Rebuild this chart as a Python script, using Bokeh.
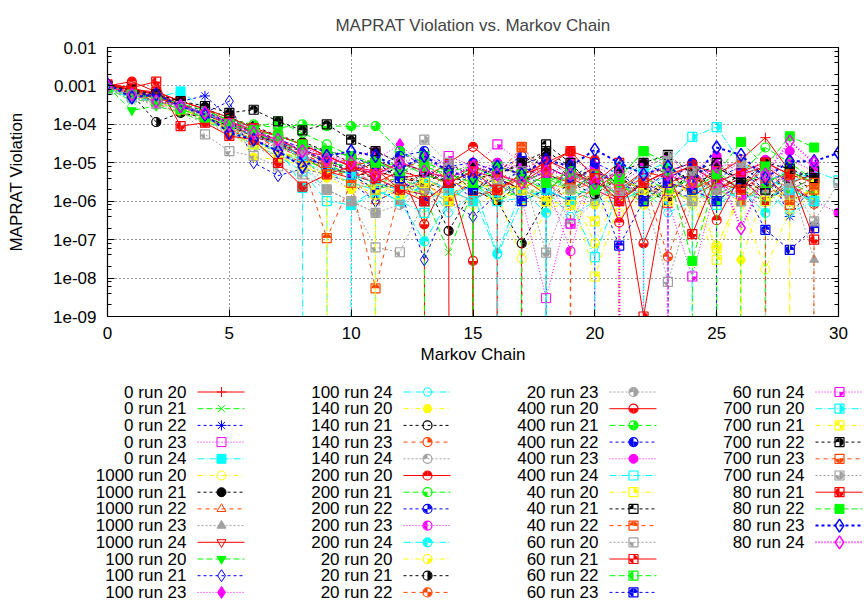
import math
from bokeh.plotting import figure
from bokeh.models import Range1d, FixedTicker, LogAxis, LinearAxis, CustomJSTickFormatter
from bokeh.layouts import column
from bokeh.embed import file_html
from bokeh.resources import INLINE
from bokeh.core.properties import value

FONT = "Liberation Sans"
FS = "17px"

# ---------------- data -------------
Z = 1e-300  # a zero reading: the line falls straight off the bottom of the log axis
s00 = [1.0e-3, 8e-4, 5e-4, 3.5e-4, 1.8e-4, 1.2e-4, 6e-5, 4e-5, 2e-5, 1.5e-5, 8e-6, 6e-6, 4e-6, 5e-6, 3e-6, 6e-6, 4e-6, 2e-6, 5e-6, 3e-6, 8e-6, 2e-6, 6e-6, 4e-6, 9e-6, 5e-6, 1.2e-5, 4.5e-5, 6e-6, 3e-6]
s01 = [9e-4, 4e-4, 4.5e-4, 2.5e-4, 1.5e-4, 9e-5, 5e-5, 3e-5, 1.2e-5, 9e-6, 5e-6, 2e-6, 3e-6, 1.5e-6, 4.7e-8, 2e-6, 3e-6, 1e-6, 4e-6, 2e-6, 1e-6, 3e-6, 8e-7, 2e-6, 5e-6, 1.5e-6, 3e-6, 1e-6, 2.5e-6, 8e-7]
s02 = [1.1e-3, 6e-4, 7e-4, 4e-4, 5.5e-4, 1.5e-4, 8e-5, 3e-5, 2.5e-5, 1e-5, 6e-6, 1.2e-5, 3e-6, 2e-6, 5e-6, 1e-6, 3e-6, 6e-6, 2e-6, Z, 4e-6, 1.5e-6, 6e-6, 2e-6, 1.2e-6, 5e-6, 2e-6, 8e-6, 4e-7, 3e-6]
s03 = [8e-4, 7e-4, 5e-4, 2.8e-4, 2e-4, 1e-4, 7e-5, 5e-5, 3e-5, 2e-5, 1.5e-5, 8e-6, 1e-5, 6e-6, 4e-6, 8e-6, 3e-6, 1.2e-6, 3e-9, 1e-6, 3e-6, Z, 2e-6, 6e-6, 3e-6, 8e-6, 4e-6, 1e-5, 3e-6, 5e-6]
s04 = [9e-4, 6e-4, 5e-4, 7.2e-4, 2.5e-4, 1.5e-4, 6e-5, 3e-5, 2.2e-6, Z, 8e-7, 1.5e-6, 2e-6, 2e-6, 1e-6, 3e-6, 1.5e-6, 2.5e-6, 1e-6, 6e-6, 3e-6, 1e-6, 2e-6, 5e-6, 1.5e-6, 4e-6, 1e-6, 3e-6, 7e-6, 3.5e-6]
s05 = [8.5e-4, 5e-4, 4e-4, 3e-4, 1.2e-4, 8e-5, 4e-5, 2e-5, 1.3e-5, 6e-6, 3e-6, 2e-6, Z, 1.2e-6, 2e-6, 8e-7, 1.5e-6, 3.2e-8, 6e-7, 1e-6, 2e-6, 5e-7, 1.2e-6, 3e-6, 8e-7, 2e-6, 1e-6, 1.7e-8, 6e-7, 1.5e-6]
s06 = [1e-3, 7e-4, 6e-4, 4e-4, 2.5e-4, 1.5e-4, 9e-5, 5e-5, 3.5e-5, 2e-5, 1e-5, 7e-6, 5e-6, 3e-6, 1e-5, 4e-6, 5e-6, 9e-6, 1.5e-5, 4e-6, 7e-6, 3e-6, 1e-5, 5e-6, 2e-6, 7e-6, 4e-6, 2e-6, 6e-6, 3e-6]
s07 = [9e-4, 6e-4, 3.5e-4, 2e-4, 1.5e-4, 8e-5, 5e-5, 2.5e-5, 1.8e-5, 8e-6, 4e-6, 1e-6, 2e-6, 6e-6, 2.5e-6, 4e-6, 1.5e-6, Z, 3e-6, 2e-6, 5e-6, 1.2e-6, 3e-6, 8e-7, 4e-6, 2e-6, 5e-6, 1.5e-6, 3e-6, 1e-6]
s08 = [7e-4, 5e-4, 3e-4, 2.2e-4, 1e-4, 6e-5, 3e-5, 1.5e-5, 1e-5, 5e-6, 2e-6, 3e-6, 1.5e-6, 4e-6, 2e-6, 1e-6, 2.5e-6, 5e-6, 2e-6, 3e-6, 1e-6, 4e-6, 2e-6, 1.5e-6, 5e-6, 3e-6, 1e-6, 2.5e-6, 4e-6, 3e-8]
s09 = [1.1e-3, 9e-4, 6e-4, 3e-4, 2e-4, 1e-4, 5e-5, 3.5e-5, 1.5e-5, 6e-6, 4e-6, 7e-6, 2e-6, 1.5e-6, Z, 1.2e-6, 2e-6, 4e-6, 1.5e-6, 8e-6, 2e-6, 1e-6, 3e-6, 6e-6, 1.4e-6, 3e-6, 2e-6, 5e-6, 1e-6, 2e-6]
s10 = [9.5e-4, 2.3e-4, 3e-4, 2e-4, 1.2e-4, 7e-5, 4e-5, 2e-5, 1.2e-5, 7e-6, 5e-6, 3e-6, 4e-6, 2e-6, Z, 3e-6, 1e-6, 2e-6, 5e-6, 2e-6, 1.5e-6, 4e-6, 1e-6, 3e-6, 2e-6, 6e-6, 2e-6, 1e-6, 3e-6, 1.5e-6]
s11 = [1e-3, 6e-4, 5e-4, 3e-4, 2e-4, 4e-4, 1e-5, 4.6e-6, 7e-6, 5e-6, 3e-6, 1e-6, 2e-6, 3e-8, 1e-6, 4e-7, 1.5e-6, 3e-6, 1e-6, 2e-6, 5e-6, 1.2e-6, 3e-6, 1e-6, Z, 2e-6, 4e-6, 1e-6, 2.5e-6, 1e-6]
s12 = [1e-3, 7e-4, 5e-4, 3.5e-4, 1.8e-4, 1.2e-4, 6e-5, 4e-5, 2.5e-5, 1.5e-5, 1e-5, 1.2e-5, 3e-5, 8e-6, 5e-6, 1e-5, 6e-6, 1e-5, 4e-6, 1.2e-5, 6e-6, 3e-6, 7e-6, 1.5e-5, 4e-6, 8e-6, 1e-5, 5e-6, 1.2e-5, 6e-6]
s13 = [8e-4, 6e-4, 4e-4, 2.5e-4, 1.5e-4, 8e-5, 3.5e-5, 2e-5, 8e-6, 2e-6, Z, 2e-6, 1e-6, 3e-6, 5e-7, 1.5e-6, 4e-8, 1e-6, 2e-6, 4e-7, 1e-6, 1e-6, 2e-6, 5e-7, 1e-6, 3e-6, 1e-6, 2e-6, 5e-7, 1e-6]
s14 = [9e-4, 5e-4, 4.5e-4, 2.8e-4, 1.4e-4, 9e-5, 1.4e-5, 1.2e-5, 9e-6, 4e-6, 2e-6, 3e-6, 1.5e-6, 2e-6, 5e-6, 2e-6, 1e-6, 3e-6, 2e-6, 1e-6, 8e-7, 2e-6, 1e-6, 4e-6, 1.5e-6, Z, 3e-8, 2e-6, 1e-6, Z]
s15 = [1e-3, 6e-4, 5e-4, 3e-4, 2e-4, 1e-4, 7e-5, 4e-5, 2e-5, 1.2e-5, 6e-6, 4e-6, 8e-6, 3e-6, 2e-6, 5e-6, 1e-6, 3e-6, 6e-6, 2e-6, 4e-6, 1e-6, 3e-6, 1.5e-6, 6e-6, 2e-6, 5e-6, 3e-6, 1e-6, 2e-6]
s16 = [1.1e-3, 8e-4, 5e-4, 3e-4, 1.6e-4, 9e-5, 5e-5, 2.5e-5, 1.4e-5, 7e-6, 4e-6, 2e-6, 5e-6, 2.5e-6, 1.5e-6, 3e-6, 6e-6, 2e-6, 1e-6, 4e-6, Z, 2e-6, 5e-6, 1.5e-6, 2e-6, 1e-6, 3e-6, 6e-6, 2e-6, 4e-6]
s17 = [8e-4, 6e-4, 4e-4, 2.5e-4, 1.4e-4, 7e-5, 3e-5, 2e-5, 1e-5, 5e-6, 3e-6, 2e-6, 1e-6, 4e-6, 2e-6, 1e-6, 3e-6, 2e-6, 1e-6, 2.5e-7, 1e-6, 3e-6, 1.2e-6, 2e-6, 4e-6, 1.5e-6, 2e-6, 1e-6, 3e-6, 2e-6]
s18 = [1e-3, 1.3e-3, 7e-4, 4e-4, 2.5e-4, 1.2e-4, 7e-5, 5e-5, 3e-5, 1.5e-5, 8e-6, 1.2e-5, 6e-6, 4e-6, 1e-5, 2.6e-5, 8e-6, 5e-6, 1e-5, 2e-5, 1.2e-5, 2.8e-7, 3e-6, 6e-6, 1e-5, 3.2e-7, 5e-6, 8e-6, 3e-6, 8.5e-7]
s19 = [9e-4, 6e-4, 5e-4, 3e-4, 2e-4, 1.3e-4, 8e-5, 1.2e-4, 6e-5, 3e-5, 1.5e-5, 8e-6, 1e-5, 5e-6, 3e-6, 8e-6, 4e-6, 1e-6, 2e-6, 5e-6, 3e-6, 1.5e-6, 4e-6, 2e-6, 1e-6, Z, 5e-6, 2.5e-5, 1e-5, 3.5e-6]
s20 = [1e-3, 7e-4, 5.5e-4, 3.5e-4, 2.2e-4, 1.1e-4, 6e-5, 3.5e-5, 2e-5, 1.2e-5, 7e-6, 5e-6, 2e-5, 8e-6, 3e-6, 5e-6, 2e-6, 8e-6, 4e-6, 4e-6, 6e-6, 3e-6, 1.5e-6, 4e-6, 8e-6, 3e-6, 6e-6, 2e-6, 5e-6, 3e-6]
s21 = [9e-4, 6e-4, 5e-4, 3e-4, 2e-4, 1.2e-4, 7e-5, 4e-5, 2.5e-5, 1.5e-5, 1.2e-5, 5e-6, 8e-6, 1.2e-5, 6e-6, 4e-6, 1e-5, 5e-6, 3e-6, 5e-8, 8e-6, 4e-6, 1e-5, 3e-6, 2e-6, 5e-6, 1e-5, 6e-6, 3e-6, 1e-6, 5e-7]
s22 = [8e-4, 5e-4, 4e-4, 2.5e-4, 1.5e-4, 8e-5, 4e-5, 2e-5, 1e-5, 6e-6, 3e-6, 2e-6, 1e-6, 9e-8, 1e-6, 3e-6, 4.4e-8, 2e-6, 5e-7, Z, 3e-6, 1e-6, 2e-6, 1e-6, 3e-6, 1e-6, 2e-6, 5e-7, 2e-6, 1e-6]
s23 = [9e-4, 5e-4, 4e-4, 3e-4, 1.5e-4, 7e-5, 3e-5, 2e-5, 1.2e-5, 8e-6, Z, 3e-6, 2e-6, 4e-6, 1.5e-6, 3e-6, 2e-6, 1e-6, 3e-6, 2e-6, 8e-8, 2e-6, 8e-7, 2e-6, 1e-6, 7e-8, 1.5e-6, 3e-6, 1e-6, 2e-6]
s24 = [1.1e-3, 6e-4, 1.15e-4, 2e-4, 1.5e-4, 9e-5, 5e-5, 3e-5, 1.5e-5, 8e-6, 5e-6, 3e-6, 2e-6, 4e-6, 1.7e-7, 2e-6, 1e-6, 8e-8, 1e-6, 3e-6, 1.5e-6, 4e-6, 2e-6, 1e-6, 3e-6, 5e-6, 2e-6, 1e-6, 4e-6, 2e-6]
s25 = [1e-3, 7e-4, 4e-4, 3e-4, 2e-4, 1e-4, 6e-5, 3e-5, 1.6e-5, 1e-5, 6e-6, 3e-6, 5e-6, 2e-6, 4e-6, 1.5e-6, 2e-6, 5e-6, Z, 2e-6, 3e-6, 1e-6, 4e-6, 3.6e-8, 2e-6, 4e-6, 1e-6, 3e-6, 1.5e-6, 3e-6]
s26 = [9e-4, 5e-4, 3.5e-4, 2.5e-4, 1.2e-4, 6e-5, 2.5e-5, 1.5e-5, 1e-5, 2e-6, 1e-6, 5e-7, 8e-7, 2e-6, 1e-6, 3e-6, 1.5e-6, 4e-6, 2e-6, 1e-6, 3e-6, 2e-6, 1e-6, 2.5e-6, 1e-6, 2e-6, 3e-6, 1.5e-6, Z, 2e-6]
s27 = [1.1e-3, 8e-4, 6e-4, 3.5e-4, 1.8e-4, 1e-4, 5e-5, 3e-5, 1.5e-5, 8e-6, 5e-6, 3e-6, 6e-6, 2.5e-7, 5e-6, 2.8e-8, Z, 3e-6, 8e-6, 4e-6, 2e-6, 6e-6, 8e-8, 3e-6, 5e-6, 2e-6, 4e-6, 1e-6, 3e-6, 5e-6]
s28 = [1e-3, 7e-4, 5e-4, 3.5e-4, 2.3e-4, 1.3e-4, 1e-4, 8e-5, 1e-4, 9e-5, 9e-5, 9e-5, 2e-5, 1e-5, 6e-6, 8e-6, 4e-6, 3e-6, 6e-6, 2e-6, 5e-6, 3e-6, 1e-6, 2e-6, 4e-6, 1e-6, 3e-6, 5e-6, 2e-6, 4e-6]
s29 = [1e-3, 7e-4, 5e-4, 3e-4, 2e-4, 1.1e-4, 6e-5, 4e-5, 2.5e-5, 2e-5, 1.5e-5, 8e-6, 1.5e-5, 2e-5, 8e-6, 1e-5, 6e-6, 1.5e-5, 8e-6, 4e-6, 1e-5, 5e-6, 2e-6, 6e-6, 1e-5, 4e-6, 8e-6, 3e-6, 6e-6, 4e-6]
s30 = [1e-3, 7e-4, 5e-4, 3e-4, 2e-4, 1.2e-4, 8e-5, 5e-5, 3e-5, 2e-5, 1.5e-5, 2e-5, 1e-5, 1.5e-5, 8e-6, 6e-6, 1e-5, 7e-6, 1.2e-5, 5e-6, 2e-6, 1e-6, 5e-6, 8e-6, 6e-6, 1.5e-5, 5e-6, 1.2e-5, 2e-5, 8e-6]
s31 = [8e-4, 5e-4, 4e-4, 3e-4, 1.5e-4, 6e-5, 3e-5, 1.5e-5, 6e-6, 1e-6, 8e-7, 2e-6, 1e-6, 5e-7, 1.5e-6, 2.5e-6, 1e-6, 1.2e-6, 2e-6, 1e-6, 3.5e-8, 2e-6, 5e-6, Z, 2e-6, 8e-7, 2e-6, 1e-6, 3e-6, 6e-6, 3.5e-6]
s32 = [9e-4, 6e-4, 4e-4, 2.5e-4, 1.5e-4, 8e-5, 4e-5, 2e-5, 1e-5, 5e-6, 3e-6, 1.5e-6, 3e-6, 1e-6, 2e-6, 4e-6, 1.5e-6, 3e-6, 1e-6, 2e-6, 1.1e-8, 1e-6, 3e-6, 2e-6, 1e-6, 3e-8, 2e-6, 1e-6, 2e-6, 1.5e-6]
s33 = [1e-3, 7e-4, 5e-4, 3e-4, 2e-4, 1e-4, 6e-5, 3e-5, 2e-5, 1e-5, 6e-6, 1e-5, 4e-6, 3e-6, 6e-6, 2e-6, 4e-6, 2e-6, 3e-5, 1e-5, 2e-6, 4e-6, 1.5e-6, 3e-6, 6e-6, 1e-5, 3e-6, 2e-6, 4e-6, 6e-6]
s34 = [9e-4, 6e-4, 4e-4, 2.5e-4, 1.5e-4, 7e-5, 4e-5, 2e-5, 1e-5, 1.1e-7, 3e-6, 5.4e-9, 2e-6, 3e-6, 1e-6, 4e-6, 2e-6, 2.6e-5, 3e-6, 1e-6, 2e-6, 5e-6, 1e-6, 3e-6, 2e-6, 4e-6, 1e-6, 3e-6, 8e-7, 2e-6]
s35 = [8e-4, 5e-4, 3.5e-4, 2.5e-4, 5.5e-5, 2e-5, 1.5e-5, 8e-6, 5e-6, 2e-6, 1e-6, 6.3e-8, 4.7e-8, 1e-6, 2e-6, 1e-6, 3e-6, 1.5e-6, 2e-6, 1e-6, 3e-6, 1.5e-6, 2e-6, 8e-9, 1e-6, 2e-6, 1e-6, 3e-6, 1.5e-6, 1e-6]
s36 = [1e-3, 8e-4, 7e-4, 4e-4, 2.5e-4, 1.5e-4, 8e-5, 5e-5, 3e-5, 1.5e-5, 8e-6, 5e-6, 1e-5, 6e-6, 4e-6, Z, 5e-6, 3e-6, 1.2e-5, 6e-6, 3e-6, 1e-5, 1e-9, 5e-6, 8e-6, 3e-6, 6e-6, 1e-5, 5e-6, 3e-6]
s37 = [9e-4, 6e-4, 5e-4, 3e-4, 2e-4, 1e-4, 6e-5, 3.5e-5, 2e-5, 1e-5, 8e-6, 1.2e-5, 5e-6, 1.5e-5, 3e-6, 6e-6, Z, 4e-6, 2e-6, 5e-6, 3e-6, 4e-6, 2e-5, 1e-5, 2e-6, 5e-6, Z, 3e-6, 6e-6, 3e-6]
s38 = [1e-3, 7e-4, 5e-4, 3e-4, 1.8e-4, 1e-4, 5e-5, 3e-5, 1.5e-5, 8e-6, 5e-6, 2e-6, 4e-6, 1e-6, 3e-6, 2e-6, 5e-6, 1e-6, 2e-6, 1e-6, 3e-6, 7e-8, 1e-6, 3e-6, 2e-6, 1e-6, 3e-6, 1.8e-7, 5.4e-8, 2e-7]
s39 = [9e-4, 6e-4, 4e-4, 3e-4, 1.5e-4, 8e-5, 4e-5, 2.5e-5, 1.5e-5, 1e-5, 6e-6, 3e-6, 2e-6, 5e-6, 1.5e-5, 8e-6, 3e-5, 1e-5, 5e-6, 2.6e-7, 5e-6, 2e-6, 4e-6, 1e-6, 1.1e-8, 3e-6, 1.5e-6, 5e-6, 2e-6, 4e-6]
s40 = [8e-4, 6e-4, 4e-4, 3e-4, 2e-4, 1e-4, 5e-5, 3e-5, 1.5e-5, 8e-6, 5e-6, 3e-6, 2e-6, 4e-6, 2e-6, 1e-6, 3e-6, Z, 2e-6, 1e-6, 3e-6, 8e-6, 6e-6, 1e-5, 4.7e-5, 8.5e-5, 1e-5, 4e-6, 2e-6, 1e-6]
s41 = [9e-4, 6e-4, 4e-4, 2.5e-4, 1.4e-4, 6e-5, 3e-5, 1.5e-5, 8e-6, 5e-6, Z, 2e-6, 1.5e-6, 3e-6, 1e-6, 5e-6, 3e-6, 2e-6, 1e-6, 8e-7, 3e-7, 4e-6, 2e-6, 1e-6, 3e-6, 6e-8, 2e-6, Z, 5e-6, 3e-6]
s42 = [1e-3, 8e-4, 6e-4, 4e-4, 3e-4, 2e-4, 2.4e-4, 1.2e-4, 7e-5, 1e-4, 4e-5, 2e-5, 1e-5, 6e-6, 3e-6, 8e-6, 5e-6, 1e-5, 2e-5, 8e-6, 3e-6, 6e-6, 1e-5, 1.6e-5, 5e-6, 8e-6, 3e-6, 1e-5, 7e-6, 4e-6]
s43 = [9e-4, 7e-4, 5e-4, 3e-4, 1.8e-4, 1e-4, 6e-5, 4e-5, 2e-5, 1e-5, 1.2e-5, 6e-6, 1e-5, 8e-6, 4e-6, 8e-6, 5e-6, 2.5e-5, 6e-6, 3e-6, 5e-6, 2e-6, 4e-6, 8e-6, 3e-6, 6e-6, 1.2e-5, 4e-6, Z, 3e-6]
s44 = [8e-4, 6e-4, 4e-4, 3e-4, 1.5e-4, 8e-5, 5e-5, 3e-5, 2e-5, 2e-6, 1e-6, 5e-7, 1e-5, 4e-5, 1e-5, 5e-6, 3e-6, 6e-6, 4.6e-8, 2e-6, 4e-6, 1.5e-6, 3e-6, 1.5e-5, 6e-6, 2e-6, 1e-5, 5e-6, 3e-6, 3e-7, 3e-6]
s45 = [1.1e-3, 9e-4, 1.3e-3, 9e-5, 1.1e-4, 5e-5, 4e-5, 1e-5, 2.4e-6, 5e-6, 8e-6, 4e-6, 2e-6, 1e-6, 3e-6, 6e-6, 2e-6, 5e-6, 8e-6, 2e-5, 4e-6, 1e-6, 3e-6, 6e-6, 1.4e-7, 5e-6, 2e-6, 1e-5, 5e-6, 1e-7]
s46 = [9e-4, 6e-4, 4e-4, 2.5e-4, 1.5e-4, 1e-4, 7e-5, 5e-5, 3e-5, 2e-5, 1.5e-5, 1e-5, 6e-6, 8e-6, 5e-6, 3e-6, 8e-6, 5e-6, 3e-6, 6e-6, 2e-6, 4e-6, 2e-5, 6e-6, 2.8e-8, 5e-6, 3.5e-5, 8e-6, 4.9e-5, 2.5e-5]
s47 = [1.1e-3, 5e-4, 6e-4, 3e-4, 1.8e-4, 6e-5, 4e-5, 2e-5, 8e-6, 1.5e-5, 2e-5, 1.5e-5, 7e-6, 1.5e-5, 6e-6, 4e-6, 8e-6, 5e-6, 1.2e-5, 8e-6, 2.2e-5, 1e-5, 5e-6, 8e-6, 3e-6, 2.5e-5, 1.6e-5, 4e-6, 1.1e-5, 1.1e-5, 1.8e-5]
s48 = [1e-3, 6e-4, 4e-4, 3e-4, 2e-4, 1e-4, 6e-5, 4e-5, 2e-5, 1.2e-5, 1e-5, 5e-6, 1e-5, 6e-6, 4e-6, 8e-6, 5e-6, 3e-6, 6e-6, 5e-6, 3e-6, 6e-6, Z, 5e-6, 3e-6, 8e-6, 2e-7, 5e-6, 3.6e-5, 1e-5]

labels = ["0 run 20", "0 run 21", "0 run 22", "0 run 23", "0 run 24",
          "1000 run 20", "1000 run 21", "1000 run 22", "1000 run 23", "1000 run 24",
          "100 run 20", "100 run 21", "100 run 23", "100 run 24",
          "140 run 20", "140 run 21", "140 run 23", "140 run 24",
          "200 run 20", "200 run 21", "200 run 22", "200 run 23", "200 run 24",
          "20 run 20", "20 run 21", "20 run 22", "20 run 23",
          "400 run 20", "400 run 21", "400 run 22", "400 run 23", "400 run 24",
          "40 run 20", "40 run 21", "40 run 22",
          "60 run 20", "60 run 21", "60 run 22", "60 run 23", "60 run 24",
          "700 run 20", "700 run 21", "700 run 22", "700 run 23", "700 run 24",
          "80 run 21", "80 run 22", "80 run 23", "80 run 24"]

series = [s00, s01, s02, s03, s04, s05, s06, s07, s08, s09, s10, s11, s12, s13, s14, s15, s16,
          s17, s18, s19, s20, s21, s22, s23, s24, s25, s26, s27, s28, s29, s30, s31, s32, s33,
          s34, s35, s36, s37, s38, s39, s40, s41, s42, s43, s44, s45, s46, s47, s48]

x_ticks = [0, 5, 10, 15, 20, 25, 30]
x_tick_labels = ["0", "5", "10", "15", "20", "25", "30"]
y_ticks = [1e-2, 1e-3, 1e-4, 1e-5, 1e-6, 1e-7, 1e-8, 1e-9]
y_tick_labels = ["0.01", "0.001", "1e-04", "1e-05", "1e-06", "1e-07", "1e-08", "1e-09"]

# ---------------- styles ----------------
COLORS = ["#ff0000", "#00ff00", "#0000ff", "#ff00ff", "#00ffff", "#ffff00", "#000000", "#ff4500", "#a0a0a0"]
DASHES = ["solid", "6 3", "3 3", "1 2", "7 2 1 2", "5 3 1 3", "3 3", "4 4", "2 2"]

SIMPLE = {1: ("cross", False), 2: ("x", False), 3: ("asterisk", False), 4: ("square", False),
          5: ("square", True), 6: ("circle", False), 7: ("circle", True), 8: ("triangle", False),
          9: ("triangle", True), 10: ("inverted_triangle", False), 11: ("inverted_triangle", True),
          12: ("diamond", False), 13: ("diamond", True), 14: ("hex", False), 15: ("hex", True)}


def draw_points(fig, xs, ys, pt, color, size=9):
    if pt in SIMPLE:
        m, filled = SIMPLE[pt]
        sz = size + 3 if m == "diamond" else (size + 1 if m in ("cross", "x", "asterisk") else size)
        fig.scatter(xs, ys, marker=m, size=sz, line_color=color, line_width=1,
                    fill_color=color if filled else None)
    elif 16 <= pt <= 47:
        pat = (pt - 16) % 16
        shape = "circle" if pt < 32 else "square"
        if pat == 15:
            fig.scatter(xs, ys, marker=shape, size=size, line_color=color, fill_color=color)
            return
        r = size / 2.0 - 0.3
        for q in range(4):
            if (pat >> q) & 1:
                fig.wedge(xs, ys, radius=r, radius_units="screen",
                          start_angle=q * math.pi / 2, end_angle=(q + 1) * math.pi / 2,
                          fill_color=color, line_color=None)
        fig.scatter(xs, ys, marker=shape, size=size, line_color=color, line_width=1.2, fill_color=None)
    else:
        fig.scatter(xs, ys, marker="diamond", size=size + 4, line_color=color, line_width=1.5,
                    fill_color=None)


# ---------------- main plot ----------------
p = figure(width=864, height=370, x_range=Range1d(0, 30), y_range=Range1d(1e-9, 1e-2),
           y_axis_type="log", output_backend="svg", toolbar_location=None,
           min_border_left=107, min_border_right=26, min_border_top=46, min_border_bottom=54)
p.background_fill_color = "white"
p.border_fill_color = "white"
p.outline_line_color = "black"
p.outline_line_width = 1.2

p.title.text = "MAPRAT Violation vs. Markov Chain"
p.title.align = "center"
p.title.text_font = FONT
p.title.text_font_size = FS
p.title.text_font_style = "normal"
p.title.standoff = 26

xticker = FixedTicker(ticks=x_ticks, minor_ticks=[])
yminor = [m * t for t in y_ticks[1:] for m in (2, 4, 6, 8)]
yticker = FixedTicker(ticks=y_ticks, minor_ticks=yminor)
yfmt = CustomJSTickFormatter(args=dict(vals=y_ticks, labs=y_tick_labels), code="""
for (let i = 0; i < vals.length; i++) {
  if (Math.abs(Math.log10(tick) - Math.log10(vals[i])) < 1e-6) return labs[i];
}
return "";
""")
xfmt = CustomJSTickFormatter(args=dict(vals=x_ticks, labs=x_tick_labels), code="""
for (let i = 0; i < vals.length; i++) { if (Math.abs(tick - vals[i]) < 1e-9) return labs[i]; }
return "";
""")
blank = CustomJSTickFormatter(code="return '';")

for ax in (p.xaxis[0], p.yaxis[0]):
    ax.major_tick_in = 7
    ax.major_tick_out = 0
    ax.minor_tick_in = 4
    ax.minor_tick_out = 0
    ax.axis_line_color = "black"
    ax.major_label_text_font = FONT
    ax.major_label_text_font_size = FS
    ax.major_label_text_color = "black"
    ax.axis_label_text_font = FONT
    ax.axis_label_text_font_size = FS
    ax.axis_label_text_font_style = "normal"
    ax.axis_label_text_color = "black"

p.xaxis.ticker = xticker
p.xaxis.formatter = xfmt
p.xaxis.axis_label = "Markov Chain"
p.xaxis.major_label_standoff = 10
p.xaxis.axis_label_standoff = 3
p.yaxis.ticker = yticker
p.yaxis.formatter = yfmt
p.yaxis.axis_label = "MAPRAT Violation"
p.yaxis.major_label_standoff = 11
p.yaxis.axis_label_standoff = 24

top_ax = LinearAxis(ticker=xticker, formatter=blank, major_tick_in=7, major_tick_out=0,
                    minor_tick_in=0, minor_tick_out=0, major_label_standoff=0)
right_ax = LogAxis(ticker=yticker, formatter=blank, major_tick_in=7, major_tick_out=0,
                   minor_tick_in=4, minor_tick_out=0, major_label_standoff=0)
p.add_layout(top_ax, "above")
p.add_layout(right_ax, "right")

p.xgrid.ticker = xticker
p.ygrid.ticker = yticker
for g in (p.xgrid[0], p.ygrid[0]):
    g.grid_line_color = "black"
    g.grid_line_dash = "1 3"
    g.grid_line_alpha = 0.8
    g.grid_line_width = 1

for i, ys in enumerate(series):
    color = COLORS[i % 9]
    dash = DASHES[i % 9]
    lw = 2 if i >= 47 else 1
    xs = list(range(len(ys)))
    p.line(xs, ys, line_color=color, line_dash=dash, line_width=lw)
    draw_points(p, xs, ys, i + 1, color)

# ---------------- legend (separate panel, pixel coordinates) ----------------
leg = figure(width=864, height=231, x_range=Range1d(0, 864), y_range=Range1d(601, 370),
             output_backend="svg", toolbar_location=None, x_axis_location=None, y_axis_location=None,
             min_border_left=0, min_border_right=0, min_border_top=0, min_border_bottom=0)
leg.grid.visible = False
leg.outline_line_color = None
leg.background_fill_color = "white"
leg.border_fill_color = "white"

for fig in (p, leg):
    try:
        fig.frame_align = False
    except Exception:
        pass

COL_RIGHT = [186, 392, 598, 804]
ROW0 = 391.5
ROW_STEP = 16.7
for i, lab in enumerate(labels):
    c, r = divmod(i, 13)
    xr = COL_RIGHT[c]
    yy = ROW0 + r * ROW_STEP
    color = COLORS[i % 9]
    lw = 2 if i >= 47 else 1
    leg.text(x=[xr], y=[yy], text=[lab], text_align="right", text_baseline="middle",
             text_font=value(FONT), text_font_size=FS, text_color="black")
    leg.line([xr + 11, xr + 58], [yy, yy], line_color=color, line_dash=DASHES[i % 9], line_width=lw)
    draw_points(leg, [xr + 35], [yy], i + 1, color)

layout = column(p, leg, spacing=0)
open("out.html", "w").write(file_html(layout, INLINE))
